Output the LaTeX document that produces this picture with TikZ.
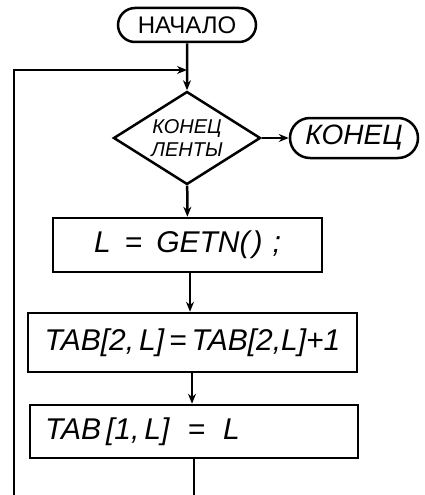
\documentclass[tikz,border=0pt]{standalone}
\usepackage{fontspec}
\setmainfont{Liberation Sans}
\usetikzlibrary{shapes.geometric,shapes.misc,arrows.meta}
\begin{document}
\begin{tikzpicture}[x=1pt,y=-1pt,
  line width=2.5pt,
  term/.style={draw,rounded rectangle,inner sep=0pt},
  dec/.style={draw,diamond,aspect=1.58,inner sep=0pt,align=center},
  proc/.style={draw,rectangle,inner sep=0pt},
  arr/.style={-{Stealth[length=10pt,width=8pt]}}]
\useasboundingbox (0,0) rectangle (424,495);
\node[term,minimum width=138pt,minimum height=34pt,font=\fontsize{24}{25}\selectfont] (start) at (187,25) {НАЧАЛО};
\node[dec,minimum width=147pt,minimum height=93pt,font=\itshape\fontsize{20}{23}\selectfont] (cond) at (187,138) {КОНЕЦ\\ЛЕНТЫ};
\node[term,minimum width=128pt,minimum height=40pt,font=\itshape\fontsize{28}{30}\selectfont] (stop) at (354,138) {КОНЕЦ};
\node[proc,minimum width=269pt,minimum height=54pt,font=\itshape\fontsize{30}{32}\selectfont] (getn) at (187.5,245) {L\hspace{14pt}=\hspace{14pt}GETN(\hspace{3pt})\hspace{10pt};};
\node[proc,minimum width=329pt,minimum height=59pt,font=\itshape\fontsize{30}{32}\selectfont] (inc) at (192.5,342.5) {TAB[2,\,L]\,=\,TAB[2,L]+1};
\node[proc,minimum width=328pt,minimum height=53pt,font=\itshape\fontsize{30}{32}\selectfont,text width=312pt,align=left] (set) at (194,431.5) {\hspace*{7pt}TAB\,[1,\,L]\hspace{18pt}=\hspace{18pt}L};
\coordinate (join) at (187,70);
\coordinate (loopend) at (14,495);
\coordinate (next) at (194,495);
\draw[arr] (start) -- (cond);
\draw[arr] (loopend) |- (join);
\draw[arr] (cond) -- (stop);
\draw[arr] (cond) -- (getn);
\draw[arr] (getn.south -| 190,0) -- (inc.north -| 190,0);
\draw[arr] (inc.south -| 192,0) -- (set.north -| 192,0);
\draw (set.south -| next) -- (next);
\end{tikzpicture}
\end{document}
